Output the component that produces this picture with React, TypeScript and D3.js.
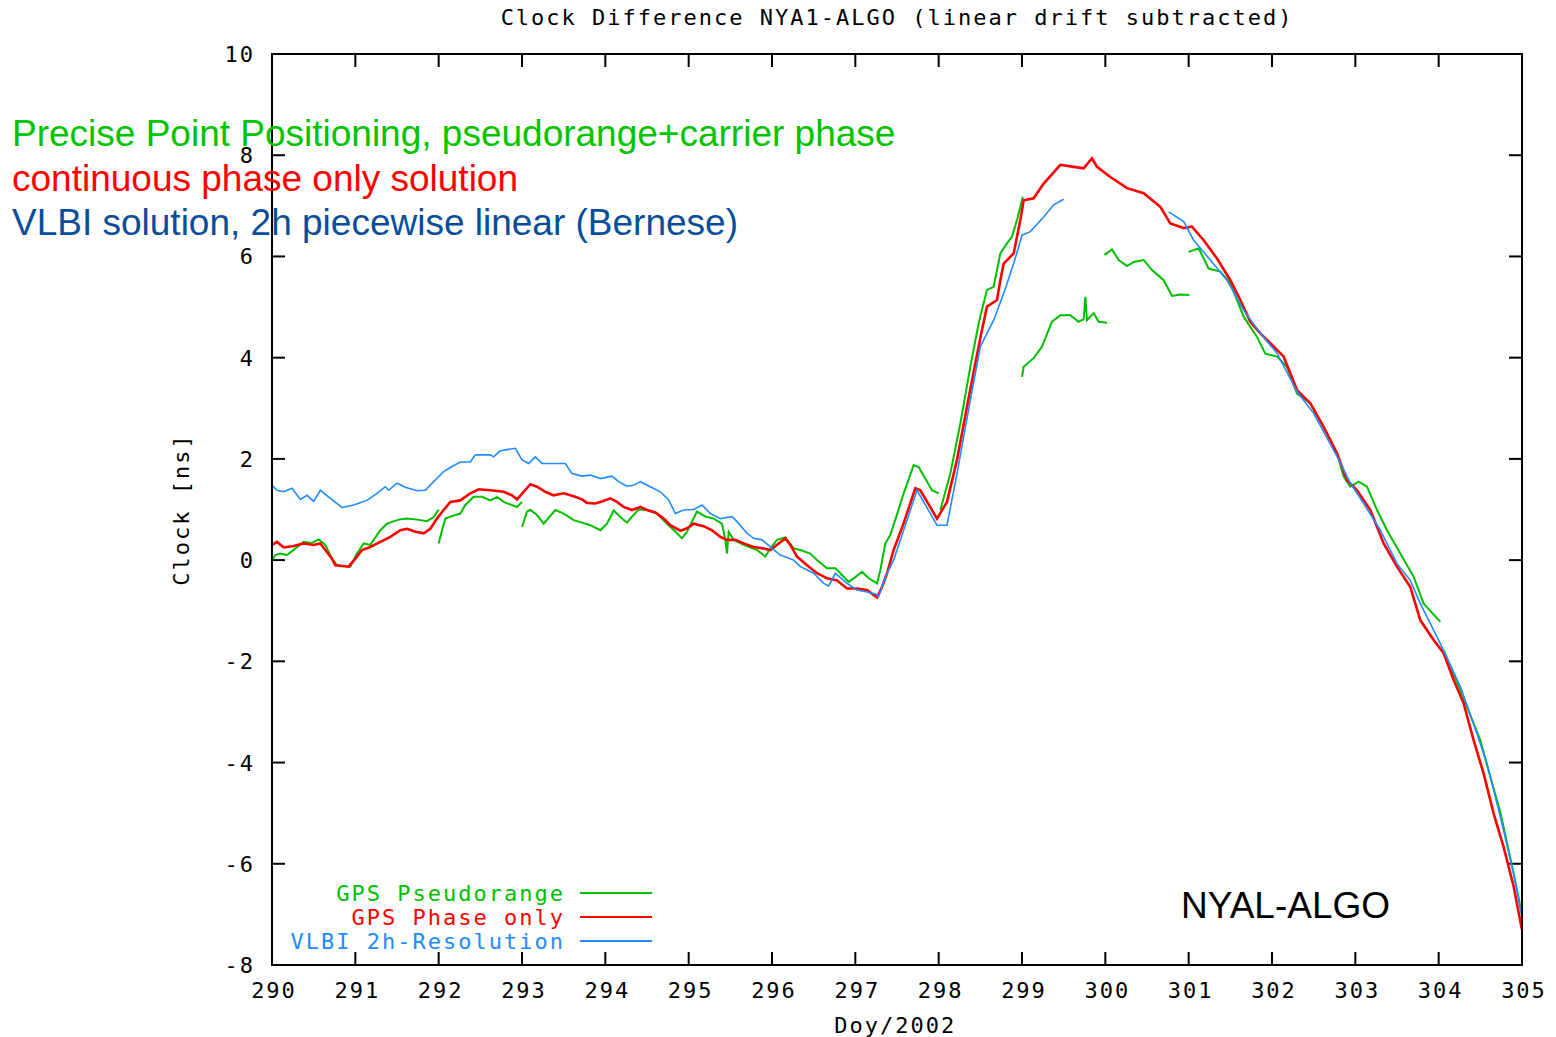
import React from "react";
import * as d3 from "d3";

// Clock difference NYA1-ALGO, day of year 2002 vs ns
const dayTicks = d3.range(290, 306, 1);
const clockTicks = d3.range(-8, 11, 2);

type Pt = [number, number];

// GPS pseudorange (PPP) comes in pieces
const pseudorangeA: Pt[] = [
  [290.0, 0.0], [290.04, 0.1], [290.1, 0.13], [290.18, 0.1], [290.28, 0.23], [290.38, 0.36],
  [290.48, 0.34], [290.56, 0.41], [290.64, 0.3], [290.72, 0.03], [290.78, -0.1], [290.94, -0.13],
  [291.02, 0.13], [291.1, 0.33], [291.18, 0.3], [291.3, 0.59], [291.38, 0.72], [291.52, 0.8],
  [291.62, 0.82], [291.74, 0.8], [291.86, 0.77], [291.94, 0.85], [292.0, 1.0],
];
const pseudorangeB: Pt[] = [
  [292.0, 0.33], [292.04, 0.59], [292.08, 0.82], [292.16, 0.87], [292.26, 0.92], [292.32, 1.09],
  [292.42, 1.25], [292.52, 1.25], [292.62, 1.18], [292.7, 1.25], [292.78, 1.15], [292.94, 1.05],
  [293.0, 1.15],
];
const pseudorangeC: Pt[] = [
  [293.0, 0.66], [293.06, 0.96], [293.1, 0.99], [293.18, 0.89], [293.26, 0.72], [293.4, 0.99],
  [293.5, 0.92], [293.62, 0.79], [293.72, 0.74], [293.82, 0.69], [293.94, 0.59], [294.02, 0.72],
  [294.1, 0.98], [294.2, 0.82], [294.26, 0.74], [294.32, 0.86], [294.4, 1.0], [294.5, 0.99],
  [294.62, 0.92], [294.74, 0.72], [294.86, 0.53], [294.92, 0.43], [294.98, 0.56], [295.04, 0.76],
  [295.1, 0.96], [295.2, 0.86], [295.3, 0.82], [295.4, 0.72], [295.44, 0.4], [295.46, 0.13],
  [295.48, 0.56], [295.54, 0.4], [295.66, 0.3], [295.82, 0.2], [295.92, 0.07], [295.98, 0.23],
  [296.06, 0.4], [296.16, 0.45], [296.26, 0.23], [296.34, 0.2], [296.46, 0.13], [296.54, 0.0],
  [296.66, -0.16], [296.76, -0.16], [296.86, -0.33], [296.92, -0.43], [296.98, -0.36], [297.08, -0.23],
  [297.16, -0.36], [297.26, -0.46], [297.3, -0.2], [297.36, 0.33], [297.42, 0.5], [297.5, 0.9],
  [297.58, 1.32], [297.7, 1.88], [297.76, 1.84], [297.92, 1.38], [298.0, 1.32],
];
const pseudorangeD: Pt[] = [
  [298.02, 0.99], [298.14, 1.71], [298.26, 2.7], [298.38, 3.82], [298.48, 4.68], [298.58, 5.34],
  [298.66, 5.4], [298.74, 6.06], [298.82, 6.26], [298.88, 6.39], [298.94, 6.72], [299.01, 7.18],
];
const pseudorangeE: Pt[] = [
  [299.0, 3.62], [299.02, 3.82], [299.14, 3.99], [299.24, 4.22], [299.36, 4.71], [299.46, 4.84],
  [299.58, 4.84], [299.68, 4.71], [299.74, 4.76], [299.76, 5.2], [299.78, 4.74], [299.86, 4.88],
  [299.92, 4.71], [300.02, 4.69],
];
const pseudorangeF: Pt[] = [
  [299.99, 6.03], [300.08, 6.14], [300.16, 5.93], [300.26, 5.81], [300.34, 5.89], [300.46, 5.93],
  [300.56, 5.73], [300.7, 5.53], [300.8, 5.22], [300.9, 5.25], [301.01, 5.24],
];
const pseudorangeG: Pt[] = [
  [301.0, 6.09], [301.12, 6.16], [301.24, 5.76], [301.38, 5.7], [301.5, 5.47], [301.66, 4.81],
  [301.82, 4.41], [301.92, 4.08], [302.06, 4.02], [302.18, 3.82], [302.3, 3.29], [302.46, 3.1],
  [302.62, 2.63], [302.78, 2.11], [302.86, 1.65], [302.94, 1.45], [303.04, 1.55], [303.14, 1.45],
  [303.26, 0.99], [303.38, 0.59], [303.54, 0.13], [303.7, -0.33], [303.82, -0.86], [304.02, -1.22],
];
const pseudorangeH: Pt[] = [
  [304.06, -1.78], [304.26, -2.57], [304.5, -3.56], [304.58, -4.05], [304.74, -4.98], [304.9, -6.19],
  [305.0, -7.0],
];

// GPS phase only
const phaseOnly: Pt[] = [
  [290.0, 0.3], [290.06, 0.36], [290.14, 0.25], [290.26, 0.28], [290.38, 0.33], [290.5, 0.3],
  [290.58, 0.33], [290.64, 0.2], [290.72, 0.03], [290.76, -0.1], [290.92, -0.13], [291.0, 0.03],
  [291.08, 0.2], [291.18, 0.26], [291.3, 0.36], [291.42, 0.46], [291.54, 0.59], [291.62, 0.62],
  [291.72, 0.56], [291.82, 0.53], [291.9, 0.62], [291.98, 0.82], [292.04, 0.95], [292.14, 1.15],
  [292.26, 1.18], [292.38, 1.32], [292.48, 1.4], [292.62, 1.38], [292.78, 1.35], [292.88, 1.28],
  [292.94, 1.2], [293.02, 1.35], [293.1, 1.5], [293.18, 1.45], [293.28, 1.35], [293.38, 1.28],
  [293.5, 1.32], [293.62, 1.26], [293.72, 1.2], [293.78, 1.13], [293.88, 1.12], [293.94, 1.15],
  [294.06, 1.22], [294.14, 1.15], [294.22, 1.05], [294.32, 0.99], [294.42, 1.05], [294.5, 0.99],
  [294.6, 0.94], [294.7, 0.82], [294.78, 0.69], [294.9, 0.58], [294.98, 0.63], [295.06, 0.72],
  [295.18, 0.67], [295.28, 0.59], [295.38, 0.46], [295.46, 0.4], [295.56, 0.4], [295.66, 0.33],
  [295.78, 0.26], [295.9, 0.23], [295.98, 0.2], [296.08, 0.33], [296.16, 0.43], [296.22, 0.3],
  [296.3, 0.07], [296.42, -0.1], [296.54, -0.26], [296.66, -0.36], [296.78, -0.4], [296.9, -0.56],
  [297.02, -0.56], [297.14, -0.59], [297.26, -0.74], [297.32, -0.53], [297.38, -0.26], [297.46, 0.2],
  [297.58, 0.73], [297.72, 1.42], [297.78, 1.38], [297.98, 0.82], [298.1, 1.15], [298.22, 1.98],
  [298.34, 3.03], [298.44, 3.89], [298.52, 4.55], [298.58, 5.01], [298.7, 5.14], [298.74, 5.53],
  [298.78, 5.86], [298.9, 6.06], [298.94, 6.39], [298.98, 6.72], [299.02, 7.11], [299.14, 7.15],
  [299.26, 7.44], [299.46, 7.81], [299.62, 7.77], [299.74, 7.74], [299.84, 7.94], [299.9, 7.77],
  [300.06, 7.57], [300.26, 7.35], [300.46, 7.25], [300.66, 6.98], [300.78, 6.65], [300.94, 6.56],
  [301.04, 6.59], [301.18, 6.32], [301.34, 5.96], [301.5, 5.53], [301.62, 5.14], [301.74, 4.71],
  [301.86, 4.48], [302.02, 4.22], [302.14, 4.02], [302.3, 3.36], [302.46, 3.1], [302.62, 2.63],
  [302.78, 2.11], [302.9, 1.58], [303.02, 1.38], [303.18, 0.99], [303.34, 0.33], [303.5, -0.13],
  [303.66, -0.53], [303.78, -1.19], [303.94, -1.58], [304.06, -1.84], [304.18, -2.37], [304.3, -2.83],
  [304.42, -3.56], [304.54, -4.22], [304.66, -5.01], [304.78, -5.67], [304.9, -6.45], [305.0, -7.31],
];

// VLBI 2h resolution, two pieces
const vlbiA: Pt[] = [
  [290.0, 1.48], [290.06, 1.38], [290.14, 1.35], [290.24, 1.42], [290.34, 1.2], [290.42, 1.28],
  [290.5, 1.16], [290.58, 1.38], [290.7, 1.22], [290.84, 1.04], [290.98, 1.09], [291.14, 1.18],
  [291.26, 1.32], [291.36, 1.45], [291.4, 1.38], [291.5, 1.52], [291.6, 1.44], [291.74, 1.37],
  [291.84, 1.38], [291.94, 1.55], [292.06, 1.75], [292.16, 1.85], [292.26, 1.94], [292.38, 1.94],
  [292.44, 2.08], [292.62, 2.08], [292.66, 2.04], [292.74, 2.16], [292.92, 2.21], [293.0, 1.98],
  [293.08, 1.91], [293.16, 2.04], [293.24, 1.91], [293.52, 1.91], [293.6, 1.71], [293.72, 1.66],
  [293.82, 1.68], [293.94, 1.61], [294.08, 1.66], [294.16, 1.55], [294.26, 1.46], [294.34, 1.48],
  [294.42, 1.55], [294.54, 1.45], [294.66, 1.35], [294.76, 1.19], [294.84, 0.92], [294.94, 0.99],
  [295.06, 1.0], [295.16, 1.09], [295.26, 0.92], [295.38, 0.82], [295.52, 0.86], [295.58, 0.76],
  [295.7, 0.53], [295.78, 0.43], [295.88, 0.4], [295.98, 0.26], [296.1, 0.1], [296.26, 0.0],
  [296.34, -0.13], [296.5, -0.26], [296.62, -0.46], [296.68, -0.51], [296.76, -0.26], [296.9, -0.46],
  [297.02, -0.59], [297.14, -0.63], [297.24, -0.67], [297.28, -0.72], [297.36, -0.33], [297.46, 0.0],
  [297.74, 1.38], [297.98, 0.69], [298.1, 0.69], [298.22, 1.71], [298.38, 3.16], [298.5, 4.22],
  [298.66, 4.74], [298.78, 5.27], [298.9, 5.86], [299.0, 6.42], [299.1, 6.49], [299.26, 6.78],
  [299.38, 7.02], [299.5, 7.13],
];
const vlbiB: Pt[] = [
  [300.76, 6.88], [300.94, 6.69], [301.06, 6.32], [301.26, 5.93], [301.46, 5.53], [301.66, 4.94],
  [301.86, 4.48], [302.06, 4.09], [302.3, 3.33], [302.5, 2.9], [302.78, 2.05], [302.94, 1.52],
  [303.1, 1.12], [303.3, 0.59], [303.5, -0.07], [303.66, -0.4], [303.78, -0.86], [304.02, -1.65],
  [304.26, -2.5], [304.46, -3.43], [304.58, -4.02], [304.74, -5.07], [304.9, -6.19], [305.0, -7.05],
];

const legendNames = ["GPS Pseudorange", "GPS Phase only", "VLBI 2h-Resolution"];
const seriesColors = ["#00c000", "#ff0000", "#1e8cff"];
const notes = [
  "Precise Point Positioning, pseudorange+carrier phase",
  "continuous phase only solution",
  "VLBI solution, 2h piecewise linear (Bernese)",
];
const noteColors = ["#00c400", "#ff0000", "#0a4d9a"];

const W = 1556;
const H = 1037;
const margin = { left: 272, top: 54, right: 34, bottom: 72 };

const mono = "'DejaVu Sans Mono', monospace";
const sans = "'Liberation Sans', Arial, sans-serif";

export default function App() {
  const x = d3.scaleLinear().domain([290, 305]).range([margin.left, W - margin.right]);
  const y = d3.scaleLinear().domain([-8, 10]).range([H - margin.bottom, margin.top]);
  const line = d3.line<Pt>().x((d) => x(d[0])).y((d) => y(d[1]));

  const x0 = x.range()[0];
  const x1 = x.range()[1];
  const y0 = y.range()[0];
  const y1 = y.range()[1];
  const tick = 13;

  const gpsSegs = [pseudorangeA, pseudorangeB, pseudorangeC, pseudorangeD, pseudorangeE, pseudorangeF, pseudorangeG, pseudorangeH];
  const monoText = { fontFamily: mono, fontSize: 22, letterSpacing: "2px" };

  return (
    <svg width={W} height={H} style={{ position: "absolute", left: 0, top: 0, background: "#fff" }}>
      <text x={(x0 + x1) / 2} y={25} textAnchor="middle" style={monoText}>
        Clock Difference NYA1-ALGO (linear drift subtracted)
      </text>

      {/* ticks */}
      {dayTicks.map((d) => (
        <g key={"x" + d}>
          <line x1={x(d)} x2={x(d)} y1={y0} y2={y0 - tick} stroke="#000" strokeWidth={2} />
          <line x1={x(d)} x2={x(d)} y1={y1} y2={y1 + tick} stroke="#000" strokeWidth={2} />
          <text x={x(d) + 2} y={y0 + 33} textAnchor="middle" style={monoText}>{d}</text>
        </g>
      ))}
      {clockTicks.map((v) => (
        <g key={"y" + v}>
          <line x1={x0} x2={x0 + tick} y1={y(v)} y2={y(v)} stroke="#000" strokeWidth={2} />
          <line x1={x1} x2={x1 - tick} y1={y(v)} y2={y(v)} stroke="#000" strokeWidth={2} />
          <text x={x0 - 17} y={y(v) + 8} textAnchor="end" style={monoText}>{v}</text>
        </g>
      ))}

      <text x={x(297.48)} y={H - 4} textAnchor="middle" style={monoText}>Doy/2002</text>
      <text transform={`translate(189, ${y(1)}) rotate(-90)`} textAnchor="middle" style={monoText}>Clock [ns]</text>

      {/* series */}
      {gpsSegs.map((s, i) => (
        <path key={"g" + i} d={line(s) || ""} fill="none" stroke={seriesColors[0]} strokeWidth={2} />
      ))}
      <path d={line(phaseOnly) || ""} fill="none" stroke={seriesColors[1]} strokeWidth={2.6} />
      {[vlbiA, vlbiB].map((s, i) => (
        <path key={"v" + i} d={line(s) || ""} fill="none" stroke={seriesColors[2]} strokeWidth={1.6} />
      ))}

      {/* legend */}
      {legendNames.map((n, i) => (
        <g key={n}>
          <text x={565} y={901 + i * 24} textAnchor="end" fill={seriesColors[i]} style={monoText}>{n}</text>
          <line x1={580} x2={652} y1={893 + i * 24} y2={893 + i * 24} stroke={seriesColors[i]} strokeWidth={2} />
        </g>
      ))}

      <rect x={x0} y={y1} width={x1 - x0} height={y0 - y1} fill="none" stroke="#000" strokeWidth={2} />

      {/* overlay notes */}
      {notes.map((t, i) => (
        <text key={t} x={12} y={146 + i * 44.5} fill={noteColors[i]} style={{ fontFamily: sans, fontSize: 37 }}>{t}</text>
      ))}
      <text x={1181} y={918} fill="#000" style={{ fontFamily: sans, fontSize: 37 }}>NYAL-ALGO</text>
    </svg>
  );
}
